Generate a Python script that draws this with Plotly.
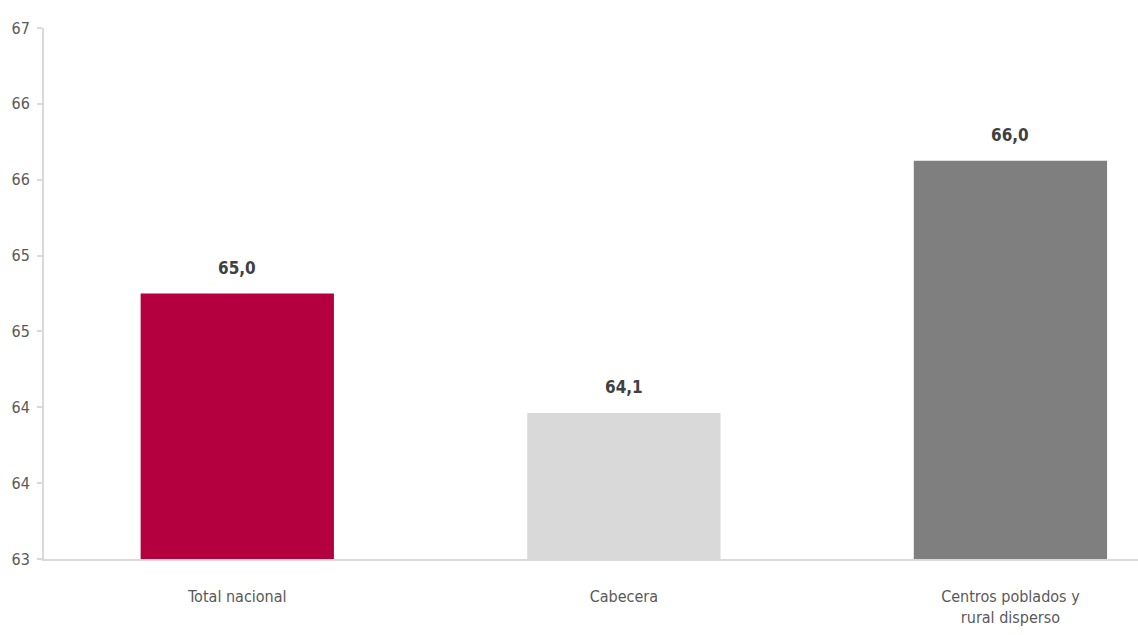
import plotly.graph_objects as go

# Categories and values (percent)
categorias = ["Total nacional", "Cabecera", "Centros poblados y<br>rural disperso"]
valores = [65.0, 64.1, 66.0]
colores = ["#B5003F", "#D9D9D9", "#7F7F7F"]

# Y axis: 63 to 67 split into seven equal steps
y_min, y_max, n_pasos = 63, 67, 7

FUENTE = "DejaVu Sans Condensed, Liberation Sans Narrow, Roboto, sans-serif"
GRIS_TEXTO = "#595959"
GRIS_EJE = "#D9D9D9"

fig = go.Figure(
    go.Bar(
        x=categorias,
        y=[v - y_min for v in valores],  # bars rise from the axis floor
        base=y_min,
        marker=dict(color=colores, line=dict(width=0)),
        width=0.5,
        hoverinfo="skip",
    )
)

for cat, v in zip(categorias, valores):
    fig.add_annotation(
        x=cat,
        y=v,
        text=f"{v:.1f}".replace(".", ","),
        showarrow=False,
        yanchor="bottom",
        yshift=14,
        font=dict(family=FUENTE, size=17, color="#404040", weight="bold"),
    )

fig.update_layout(
    width=1138,
    height=635,
    margin=dict(l=44, r=0, t=28, b=76),
    paper_bgcolor="white",
    plot_bgcolor="white",
    showlegend=False,
    font=dict(family=FUENTE, size=16, color=GRIS_TEXTO),
)

fig.update_xaxes(
    range=[-0.5, 2.33],
    showline=True,
    linecolor=GRIS_EJE,
    linewidth=2,
    showgrid=False,
    zeroline=False,
    ticks="",
    tickfont=dict(family=FUENTE, size=16, color=GRIS_TEXTO),
    ticklabelstandoff=22,
)

fig.update_yaxes(
    range=[y_min, y_max + 1e-6],
    tick0=y_min,
    dtick=(y_max - y_min) / n_pasos,
    tickformat=".0f",
    showline=True,
    linecolor=GRIS_EJE,
    linewidth=2,
    ticks="outside",
    ticklen=5,
    tickwidth=2,
    tickcolor=GRIS_EJE,
    showgrid=False,
    zeroline=False,
    tickfont=dict(family=FUENTE, size=16, color=GRIS_TEXTO),
    ticklabelstandoff=4,
)

fig.write_html("out.html")
